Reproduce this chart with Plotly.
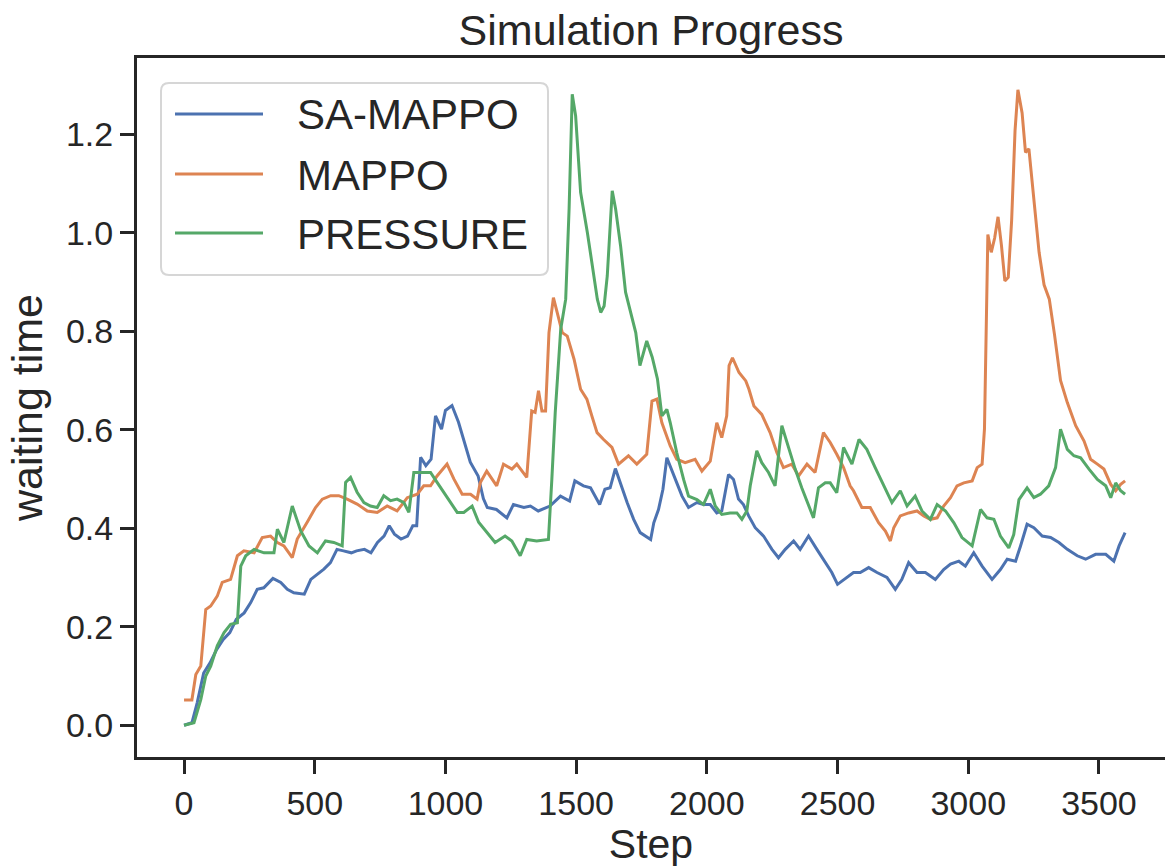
import plotly.graph_objects as go

# ---------------- data ----------------
series_names = ["SA-MAPPO", "MAPPO", "PRESSURE"]
series_colors = ["#4C72B0", "#DD8452", "#55A868"]

sa_steps = [0, 30, 50, 75, 100, 125, 150, 175, 200, 230, 255, 280, 305, 340, 370, 395, 420, 460, 485, 510,
            535, 560, 585, 610, 640, 660, 690, 715, 740, 765, 785, 805, 830, 855, 875, 890, 905, 925, 945, 962,
            985, 1000, 1025, 1050, 1070, 1095, 1125, 1145, 1160, 1195, 1235, 1260, 1300, 1325, 1355, 1400, 1440,
            1475, 1495, 1528, 1555, 1590, 1610, 1630, 1650, 1668, 1695, 1720, 1745, 1785, 1797, 1815, 1832, 1847,
            1866, 1885, 1905, 1930, 1962, 1987, 2013, 2038, 2057, 2083, 2102, 2121, 2140, 2160, 2185, 2217, 2249,
            2274, 2300, 2332, 2357, 2389, 2421, 2446, 2478, 2500, 2530, 2561, 2587, 2619, 2651, 2689, 2721, 2746,
            2772, 2804, 2836, 2874, 2906, 2932, 2964, 2989, 3021, 3053, 3091, 3123, 3149, 3181, 3200, 3225, 3251,
            3283, 3315, 3347, 3379, 3417, 3449, 3487, 3526, 3557, 3577, 3600]
sa_values = [0.0, 0.005, 0.045, 0.106, 0.127, 0.154, 0.174, 0.188, 0.215, 0.228, 0.249, 0.276, 0.279, 0.298,
             0.290, 0.276, 0.269, 0.266, 0.296, 0.306, 0.317, 0.330, 0.357, 0.354, 0.350, 0.354, 0.357, 0.350,
             0.371, 0.384, 0.405, 0.388, 0.378, 0.384, 0.405, 0.405, 0.544, 0.527, 0.540, 0.628, 0.601, 0.639,
             0.649, 0.615, 0.581, 0.534, 0.506, 0.460, 0.442, 0.438, 0.421, 0.448, 0.442, 0.445, 0.435, 0.445,
             0.465, 0.455, 0.496, 0.486, 0.482, 0.448, 0.479, 0.482, 0.521, 0.492, 0.452, 0.418, 0.391, 0.377,
             0.411, 0.438, 0.479, 0.543, 0.516, 0.492, 0.465, 0.442, 0.452, 0.448, 0.448, 0.431, 0.435, 0.509,
             0.499, 0.459, 0.448, 0.425, 0.401, 0.384, 0.357, 0.340, 0.357, 0.374, 0.357, 0.384, 0.357, 0.337,
             0.310, 0.286, 0.298, 0.310, 0.310, 0.320, 0.310, 0.300, 0.276, 0.296, 0.330, 0.310, 0.310, 0.296,
             0.316, 0.327, 0.333, 0.323, 0.350, 0.323, 0.296, 0.316, 0.337, 0.333, 0.364, 0.408, 0.401, 0.384,
             0.381, 0.371, 0.357, 0.344, 0.337, 0.347, 0.347, 0.333, 0.364, 0.391]

ma_steps = [0, 30, 45, 64, 83, 102, 127, 146, 178, 204, 229, 268, 299, 331, 357, 382, 414, 433, 471, 503, 529,
            561, 592, 624, 662, 701, 739, 777, 815, 854, 892, 917, 943, 968, 1006, 1032, 1064, 1096, 1121, 1133,
            1158, 1196, 1222, 1254, 1273, 1311, 1330, 1343, 1356, 1369, 1383, 1396, 1413, 1428, 1447, 1466, 1492,
            1517, 1541, 1560, 1580, 1605, 1637, 1662, 1700, 1732, 1770, 1790, 1809, 1828, 1860, 1885, 1917, 1955,
            1981, 2013, 2038, 2057, 2076, 2085, 2098, 2123, 2149, 2161, 2180, 2210, 2242, 2268, 2293, 2325, 2351,
            2383, 2414, 2446, 2472, 2497, 2523, 2548, 2561, 2593, 2625, 2657, 2683, 2702, 2715, 2740, 2772, 2804,
            2830, 2855, 2881, 2906, 2932, 2957, 2983, 3015, 3034, 3053, 3062, 3075, 3088, 3101, 3114, 3127, 3140,
            3153, 3166, 3179, 3190, 3206, 3219, 3232, 3251, 3271, 3290, 3310, 3330, 3353, 3379, 3411, 3443, 3468,
            3494, 3519, 3545, 3564, 3583, 3600]
ma_values = [0.051, 0.051, 0.103, 0.120, 0.235, 0.242, 0.262, 0.290, 0.296, 0.344, 0.354, 0.350, 0.381, 0.384,
             0.371, 0.364, 0.340, 0.378, 0.412, 0.442, 0.459, 0.466, 0.466, 0.459, 0.449, 0.435, 0.432, 0.445,
             0.435, 0.462, 0.469, 0.486, 0.486, 0.506, 0.530, 0.500, 0.469, 0.469, 0.459, 0.492, 0.516, 0.486,
             0.530, 0.520, 0.530, 0.503, 0.638, 0.635, 0.679, 0.638, 0.638, 0.797, 0.868, 0.838, 0.797, 0.790,
             0.743, 0.682, 0.662, 0.628, 0.594, 0.580, 0.564, 0.530, 0.547, 0.530, 0.550, 0.658, 0.662, 0.614,
             0.567, 0.540, 0.533, 0.540, 0.516, 0.536, 0.614, 0.584, 0.628, 0.730, 0.746, 0.716, 0.699, 0.682,
             0.648, 0.631, 0.594, 0.553, 0.523, 0.530, 0.506, 0.530, 0.513, 0.594, 0.574, 0.550, 0.523, 0.486,
             0.476, 0.442, 0.442, 0.411, 0.394, 0.374, 0.401, 0.425, 0.431, 0.435, 0.425, 0.418, 0.421, 0.445,
             0.462, 0.486, 0.492, 0.496, 0.523, 0.530, 0.601, 0.996, 0.960, 0.989, 1.032, 0.974, 0.902, 0.909,
             1.025, 1.207, 1.290, 1.243, 1.163, 1.170, 1.061, 0.960, 0.894, 0.865, 0.793, 0.700, 0.655, 0.608,
             0.577, 0.540, 0.530, 0.520, 0.489, 0.476, 0.489, 0.496]

pr_steps = [0, 38, 64, 83, 102, 127, 153, 178, 204, 217, 236, 268, 306, 344, 357, 382, 414, 446, 478, 510, 541,
            573, 605, 618, 637, 662, 688, 713, 739, 764, 790, 815, 841, 860, 879, 917, 943, 968, 994, 1019, 1045,
            1070, 1102, 1127, 1158, 1190, 1228, 1254, 1286, 1311, 1349, 1394, 1407, 1420, 1441, 1460, 1473, 1485,
            1498, 1517, 1543, 1562, 1581, 1594, 1607, 1619, 1638, 1651, 1670, 1689, 1709, 1728, 1744, 1770, 1791,
            1811, 1828, 1847, 1860, 1885, 1911, 1930, 1962, 1987, 2013, 2032, 2057, 2089, 2115, 2134, 2153, 2166,
            2191, 2210, 2236, 2261, 2287, 2306, 2338, 2363, 2389, 2408, 2427, 2453, 2472, 2497, 2523, 2555, 2582,
            2612, 2644, 2676, 2708, 2740, 2766, 2797, 2823, 2855, 2881, 2913, 2945, 2976, 3015, 3047, 3072, 3098,
            3123, 3155, 3174, 3194, 3225, 3251, 3276, 3308, 3334, 3353, 3379, 3404, 3430, 3462, 3494, 3526, 3545,
            3564, 3583, 3600]
pr_values = [0.0, 0.005, 0.052, 0.100, 0.120, 0.161, 0.188, 0.205, 0.208, 0.323, 0.344, 0.357, 0.350, 0.350,
             0.398, 0.371, 0.445, 0.395, 0.364, 0.350, 0.374, 0.371, 0.364, 0.493, 0.503, 0.473, 0.452, 0.445,
             0.442, 0.466, 0.456, 0.459, 0.452, 0.432, 0.513, 0.513, 0.513, 0.493, 0.473, 0.452, 0.432, 0.432,
             0.445, 0.412, 0.391, 0.371, 0.384, 0.374, 0.344, 0.377, 0.374, 0.377, 0.499, 0.635, 0.804, 0.865,
             1.048, 1.281, 1.237, 1.082, 1.000, 0.933, 0.865, 0.838, 0.851, 0.912, 1.085, 1.048, 0.973, 0.879,
             0.838, 0.797, 0.730, 0.780, 0.747, 0.703, 0.628, 0.641, 0.614, 0.553, 0.499, 0.465, 0.458, 0.448,
             0.479, 0.445, 0.428, 0.431, 0.431, 0.418, 0.435, 0.486, 0.557, 0.533, 0.513, 0.486, 0.608, 0.574,
             0.520, 0.482, 0.445, 0.421, 0.482, 0.492, 0.492, 0.472, 0.564, 0.530, 0.580, 0.560, 0.523, 0.486,
             0.452, 0.476, 0.445, 0.465, 0.435, 0.418, 0.448, 0.435, 0.411, 0.381, 0.364, 0.438, 0.421, 0.418,
             0.384, 0.360, 0.387, 0.458, 0.482, 0.462, 0.469, 0.486, 0.523, 0.601, 0.560, 0.547, 0.543, 0.520,
             0.499, 0.486, 0.462, 0.492, 0.476, 0.469]

x_ticks = [0, 500, 1000, 1500, 2000, 2500, 3000, 3500]
y_ticks = [0.0, 0.2, 0.4, 0.6, 0.8, 1.0, 1.2]

# ---------------- figure ----------------
W, H = 1165, 867
ML, MR, MT, MB = 137, 0, 58, 110
PW, PH = W - ML - MR, H - MT - MB
INK = "#262626"
FONT = "Liberation Sans, Arial, sans-serif"

fig = go.Figure()
steps_all = [sa_steps, ma_steps, pr_steps]
vals_all = [sa_values, ma_values, pr_values]
for name, col, xs, ys in zip(series_names, series_colors, steps_all, vals_all):
    fig.add_trace(go.Scatter(x=xs, y=ys, mode="lines", name=name,
                             line=dict(color=col, width=3), showlegend=False))

def px2x(p):
    return (p - ML) / PW

def py2y(p):
    return (H - MB - p) / PH

# custom legend (matplotlib style)
lx0, lx1, ly0, ly1, r = 161, 548, 83, 275, 8
path = (f"M {px2x(lx0 + r)},{py2y(ly0)} L {px2x(lx1 - r)},{py2y(ly0)} "
        f"Q {px2x(lx1)},{py2y(ly0)} {px2x(lx1)},{py2y(ly0 + r)} "
        f"L {px2x(lx1)},{py2y(ly1 - r)} Q {px2x(lx1)},{py2y(ly1)} {px2x(lx1 - r)},{py2y(ly1)} "
        f"L {px2x(lx0 + r)},{py2y(ly1)} Q {px2x(lx0)},{py2y(ly1)} {px2x(lx0)},{py2y(ly1 - r)} "
        f"L {px2x(lx0)},{py2y(ly0 + r)} Q {px2x(lx0)},{py2y(ly0)} {px2x(lx0 + r)},{py2y(ly0)} Z")
shapes = [dict(type="path", xref="paper", yref="paper", path=path,
               fillcolor="rgba(255,255,255,0.8)", line=dict(color="#d6d6d6", width=2), layer="above")]
annotations = []
row_y = [114, 174, 233]
for name, col, yy in zip(series_names, series_colors, row_y):
    shapes.append(dict(type="line", xref="paper", yref="paper",
                       x0=px2x(175), x1=px2x(263), y0=py2y(yy), y1=py2y(yy),
                       line=dict(color=col, width=3), layer="above"))
    annotations.append(dict(xref="paper", yref="paper", x=px2x(295), y=py2y(yy + 1),
                            xanchor="left", yanchor="middle", showarrow=False, text=name,
                            font=dict(family=FONT, size=42, color=INK)))

fig.update_layout(
    width=W, height=H,
    margin=dict(l=ML, r=MR, t=MT, b=MB, pad=0),
    paper_bgcolor="white", plot_bgcolor="white",
    font=dict(family=FONT, color=INK),
    title=dict(text="Simulation Progress", x=0.5, xref="paper", xanchor="center",
               y=1 - 30 / H, yref="container", yanchor="middle",
               font=dict(family=FONT, size=43, color=INK)),
    shapes=shapes, annotations=annotations, showlegend=False,
)
fig.update_xaxes(range=[-180, -180 + PW / 0.2614], tickvals=x_ticks,
                 ticktext=[str(v) for v in x_ticks],
                 showgrid=False, zeroline=False, showline=True, linecolor=INK, linewidth=3,
                 mirror=True, ticks="outside", ticklen=14, tickwidth=3, tickcolor=INK,
                 tickfont=dict(family=FONT, size=34, color=INK),
                 title=dict(text="Step", font=dict(family=FONT, size=41, color=INK), standoff=12))
fig.update_yaxes(range=[-0.0645, 1.3545], tickvals=y_ticks,
                 ticktext=[f"{v:.1f}" for v in y_ticks],
                 showgrid=False, zeroline=False, showline=True, linecolor=INK, linewidth=3,
                 ticks="outside", ticklen=14, tickwidth=3, tickcolor=INK,
                 tickfont=dict(family=FONT, size=34, color=INK),
                 title=dict(text="waiting time", font=dict(family=FONT, size=43, color=INK), standoff=10))

fig.write_html("out.html")
